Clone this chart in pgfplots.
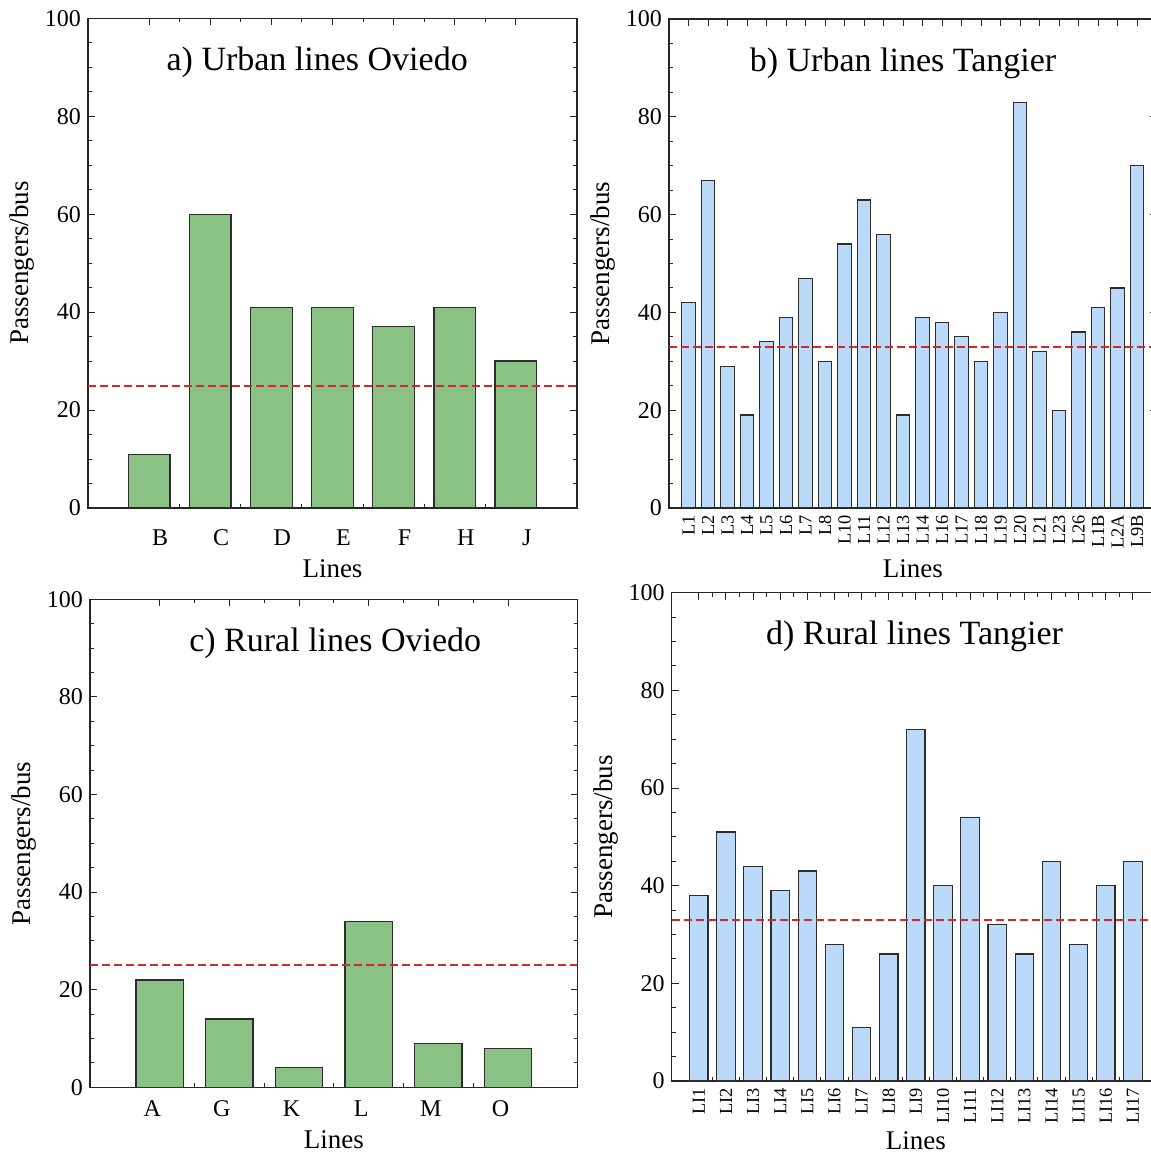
\documentclass[border=0pt]{standalone}
\usepackage{fontspec}
\setmainfont{Liberation Serif}
\usepackage{pgfplots}
\pgfplotsset{compat=1.18}

\definecolor{barg}{RGB}{138,193,132}
\definecolor{barb}{RGB}{187,218,250}
\definecolor{edge}{RGB}{45,45,45}
\definecolor{avg}{RGB}{214,39,40}

\tikzset{ttl/.style={font=\fontsize{17}{20}\selectfont}}
\pgfplotsset{
  panel/.style={
    scale only axis, anchor=south west,
    xmin=0, ymin=0, ymax=100,
    ytick={0,20,40,60,80,100}, minor y tick num=3, minor x tick num=1,
    axis line style={line width=0.6pt, black!85},
    major tick length=3.5pt, minor tick length=2pt,
    tick style={line width=0.5pt, black!85},
    tick label style={font=\fontsize{12}{14}\selectfont},
    /pgf/number format/assume math mode=true,
    label style={font=\fontsize{13.5}{16}\selectfont},
    ylabel={Passengers/bus}, xlabel={Lines},
    ylabel style={at={(axis description cs:-0.135,0.5)}, anchor=center},
  },
  bars/.style={ybar, bar width=0.68, draw=edge, line width=0.6pt, fill=#1},
  avgline/.style={avg, line width=1pt, dash pattern=on 4pt off 2pt},
}

\begin{document}
\begin{tikzpicture}
\path[use as bounding box, clip] (0,0) rectangle (575.5pt,576.5pt);

% a) urban Oviedo
\begin{axis}[panel, at={(44pt,322.5pt)}, width=244.5pt, height=244.85pt,
  xmax=8, xtick={1,...,7}, xticklabels={B,C,D,E,F,H,J},
  xticklabel style={xshift=5.5pt, yshift=-7.5pt},
  xlabel style={at={(axis description cs:0.5,-0.123)}, anchor=center}]
\addplot[bars=barg] coordinates {(1,11) (2,60) (3,41) (4,41) (5,37) (6,41) (7,30)};
\addplot[avgline] coordinates {(0,25) (8,25)};
\node[ttl] at (axis cs:3.75,91) {a) Urban lines Oviedo};
\end{axis}

% b) urban Tangier
\begin{axis}[panel, at={(334.5pt,322.5pt)}, width=243.75pt, height=244.5pt,
  xmax=25, xtick={1,...,24}, minor x tick num=0,
  xticklabels={L1,L2,L3,L4,L5,L6,L7,L8,L10,L11,L12,L13,L14,L16,L17,L18,L19,L20,L21,L23,L26,L1B,L2A,L9B},
  xticklabel style={rotate=90, anchor=east, font=\fontsize{9.2}{10}\selectfont},
  xlabel style={at={(axis description cs:0.5,-0.125)}, anchor=center}]
\addplot[bars=barb] coordinates {(1,42) (2,67) (3,29) (4,19) (5,34) (6,39) (7,47) (8,30)
  (9,54) (10,63) (11,56) (12,19) (13,39) (14,38) (15,35) (16,30) (17,40) (18,83)
  (19,32) (20,20) (21,36) (22,41) (23,45) (24,70)};
\addplot[avgline] coordinates {(0,33) (25,33)};
\node[ttl] at (axis cs:12,91) {b) Urban lines Tangier};
\end{axis}

% c) rural Oviedo
\begin{axis}[panel, at={(45pt,32.85pt)}, width=243.85pt, height=244pt,
  xmax=7, xtick={1,...,6}, xticklabels={A,G,K,L,M,O},
  xticklabel style={xshift=-3.75pt, yshift=-3pt},
  xlabel style={at={(axis description cs:0.5,-0.108)}, anchor=center}]
\addplot[bars=barg] coordinates {(1,22) (2,14) (3,4) (4,34) (5,9) (6,8)};
\addplot[avgline] coordinates {(0,25) (7,25)};
\node[ttl] at (axis cs:3.52,91) {c) Rural lines Oviedo};
\end{axis}

% d) rural Tangier
\begin{axis}[panel, at={(335.85pt,36pt)}, width=244.15pt, height=244.15pt,
  xmax=18, xtick={1,...,17},
  xticklabels={LI1,LI2,LI3,LI4,LI5,LI6,LI7,LI8,LI9,LI10,LI11,LI12,LI13,LI14,LI15,LI16,LI17},
  xticklabel style={rotate=90, anchor=east, font=\fontsize{9.2}{10}\selectfont},
  xlabel style={at={(axis description cs:0.5,-0.123)}, anchor=center}]
\addplot[bars=barb] coordinates {(1,38) (2,51) (3,44) (4,39) (5,43) (6,28) (7,11) (8,26)
  (9,72) (10,40) (11,54) (12,32) (13,26) (14,45) (15,28) (16,40) (17,45)};
\addplot[avgline] coordinates {(0,33) (18,33)};
\node[ttl] at (axis cs:8.95,91) {d) Rural lines Tangier};
\end{axis}
\end{tikzpicture}
\end{document}
